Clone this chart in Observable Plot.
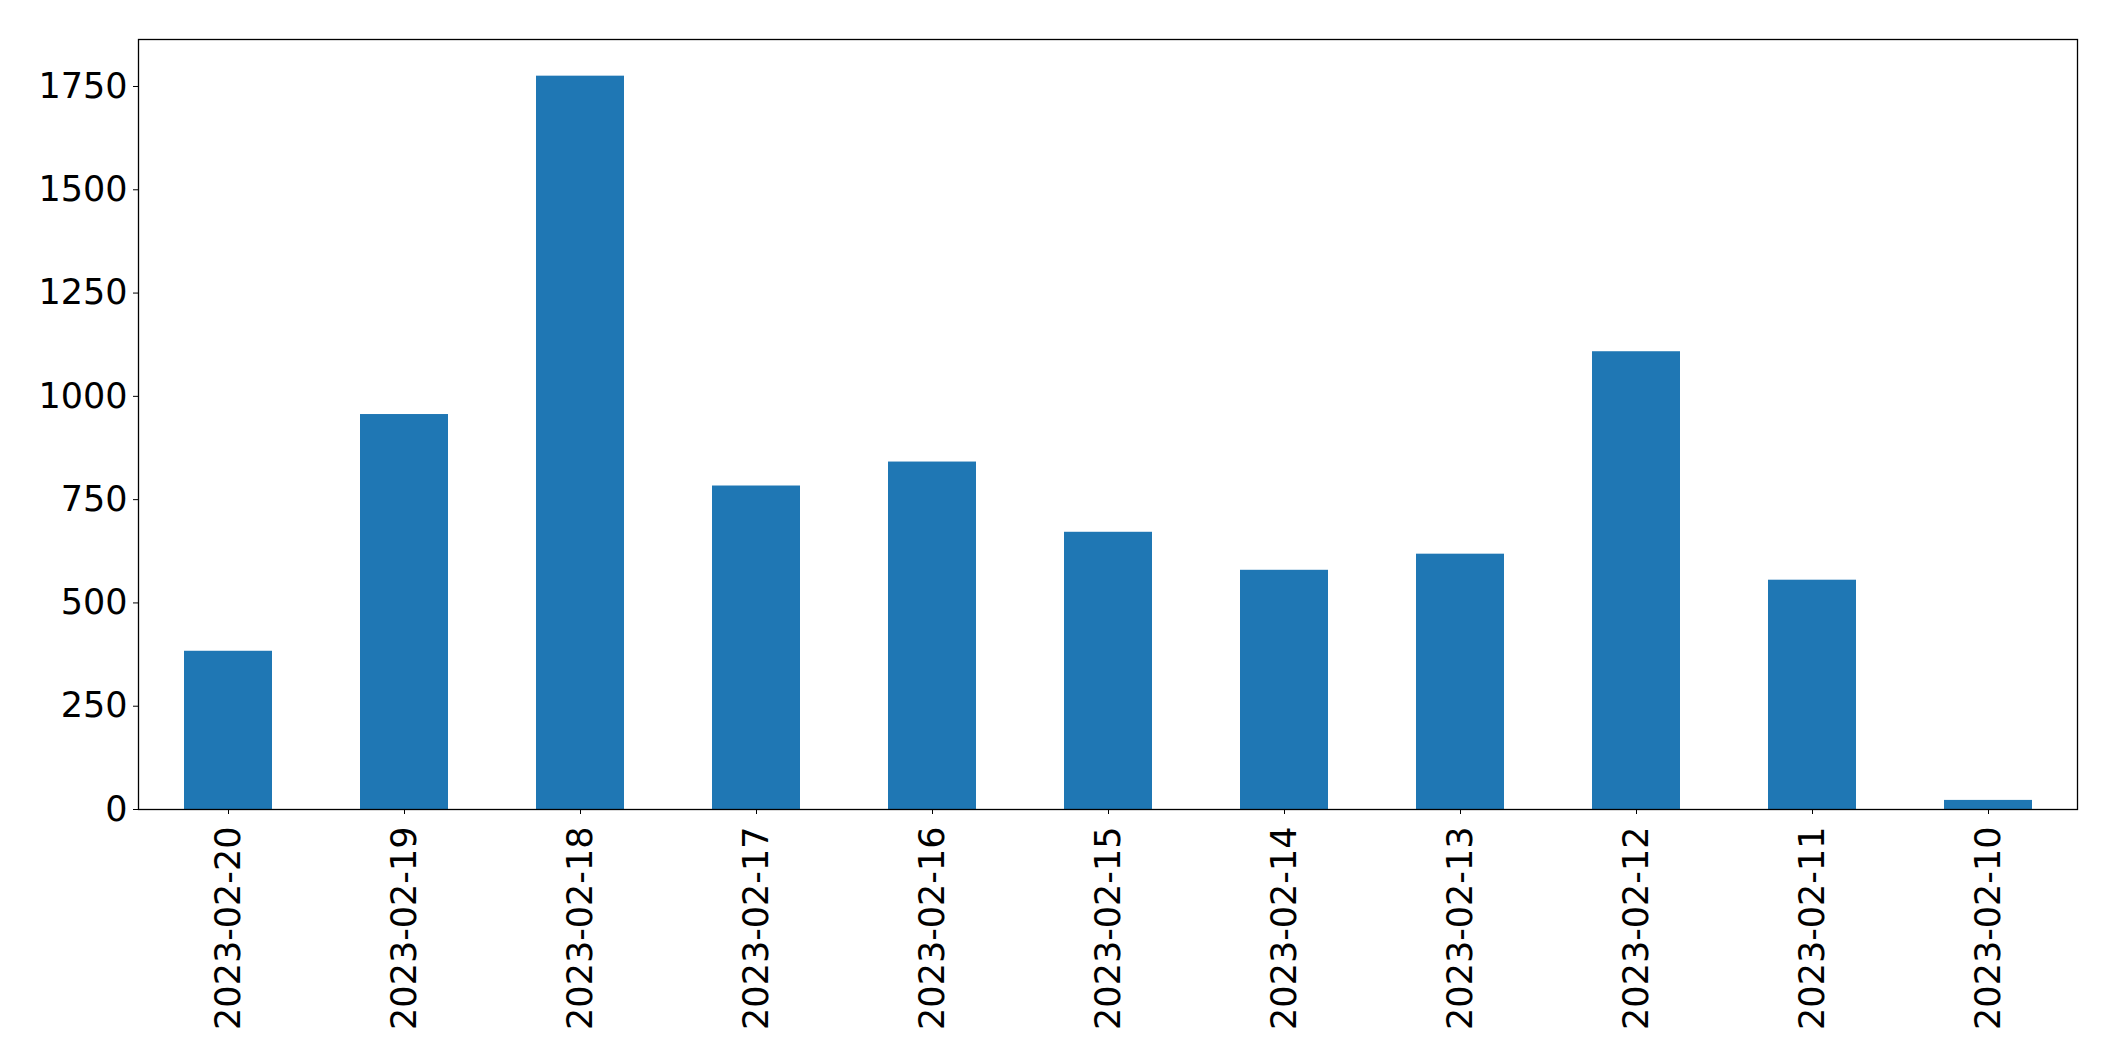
<!DOCTYPE html>
<html>
<head>
<meta charset="utf-8">
<script src="https://cdn.jsdelivr.net/npm/d3@7"></script>
<script src="https://cdn.jsdelivr.net/npm/@observablehq/plot@0.6"></script>
<style>
  html, body { margin: 0; padding: 0; background: #fff; }
  #chart svg { display: block; }
</style>
</head>
<body>
<div id="chart"></div>
<script>
const dates = ["2023-02-20","2023-02-19","2023-02-18","2023-02-17","2023-02-16","2023-02-15","2023-02-14","2023-02-13","2023-02-12","2023-02-11","2023-02-10"];
const counts = [383, 956, 1775, 783, 841, 671, 579, 618, 1108, 555, 22];
const yTicks = [0, 250, 500, 750, 1000, 1250, 1500, 1750];

const data = dates.map((d, i) => ({date: d, count: counts[i]}));
const yMax = d3.max(counts) * 1.05;

const chart = Plot.plot({
  width: 2115,
  height: 1061,
  marginLeft: 138,
  marginRight: 38,
  marginTop: 39,
  marginBottom: 252,
  style: {fontFamily: "DejaVu Sans", fontSize: "35px", color: "#000", background: "#fff"},
  x: {domain: dates, paddingInner: 0.5, paddingOuter: 0.25, label: null},
  y: {domain: [0, yMax], label: null},
  marks: [
    Plot.barY(data, {x: "date", y: "count", fill: "#1f77b4"}),
    Plot.frame({stroke: "#000", strokeWidth: 1.3}),
    Plot.axisY({ticks: yTicks, tickFormat: d => String(d), tickSize: 5, tickPadding: 6, label: null, stroke: "#000"}),
    Plot.axisX({tickRotate: -90, tickSize: 5, tickPadding: 12, label: null, stroke: "#000"})
  ]
});
document.getElementById("chart").appendChild(chart);
</script>
</body>
</html>
